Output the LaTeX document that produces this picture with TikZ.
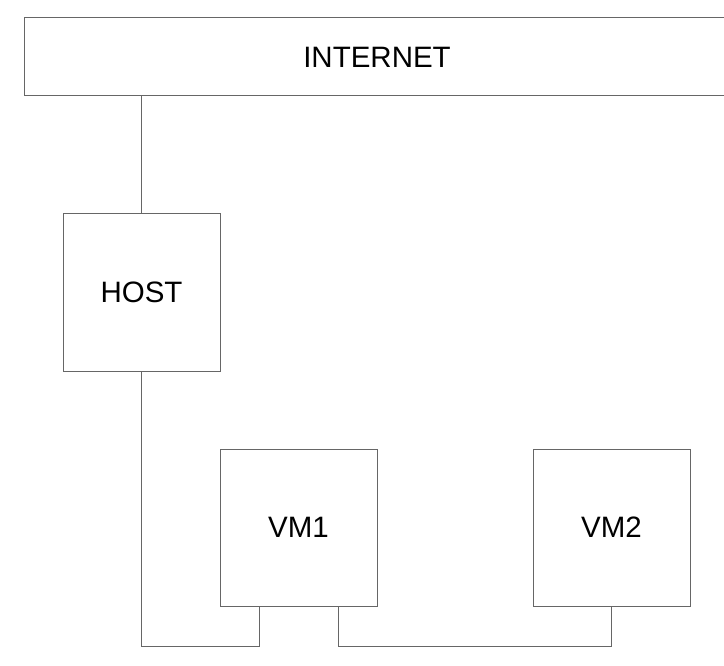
\documentclass[tikz,border=0pt]{standalone}
\usepackage{fontspec}
\setmainfont{Liberation Sans}
\usetikzlibrary{calc}
\begin{document}
\begin{tikzpicture}[x=1pt,y=-1pt,
  box/.style={draw=black!60, line width=1pt, fill=white, inner sep=0pt,
    font=\fontsize{29.5}{34}\selectfont, text=black},
  wire/.style={draw=black!60, line width=1pt}]
\useasboundingbox (0,0) rectangle (724,666);
\clip (0,0) rectangle (724,666);
\node[box, minimum width=706pt, minimum height=78pt] (internet) at (377,57) {INTERNET};
\node[box, minimum width=157pt, minimum height=157pt] (host) at (141.5,292.5) {HOST};
\node[box, minimum width=157pt, minimum height=157pt] (vm1) at (298.5,527.5) {VM1};
\node[box, minimum width=157pt, minimum height=157pt] (vm2) at (611.5,527.5) {VM2};
\coordinate (bus) at (0,646);
\coordinate (v1a) at ($(vm1.south west)!0.25!(vm1.south east)$);
\coordinate (v1b) at ($(vm1.south west)!0.75!(vm1.south east)$);
\draw[wire] (internet.south -| host.north) -- (host.north);
\draw[wire] (host.south) |- (v1a |- bus) -- (v1a);
\draw[wire] (v1b) |- (vm2.south |- bus) -- (vm2.south);
\end{tikzpicture}
\end{document}
